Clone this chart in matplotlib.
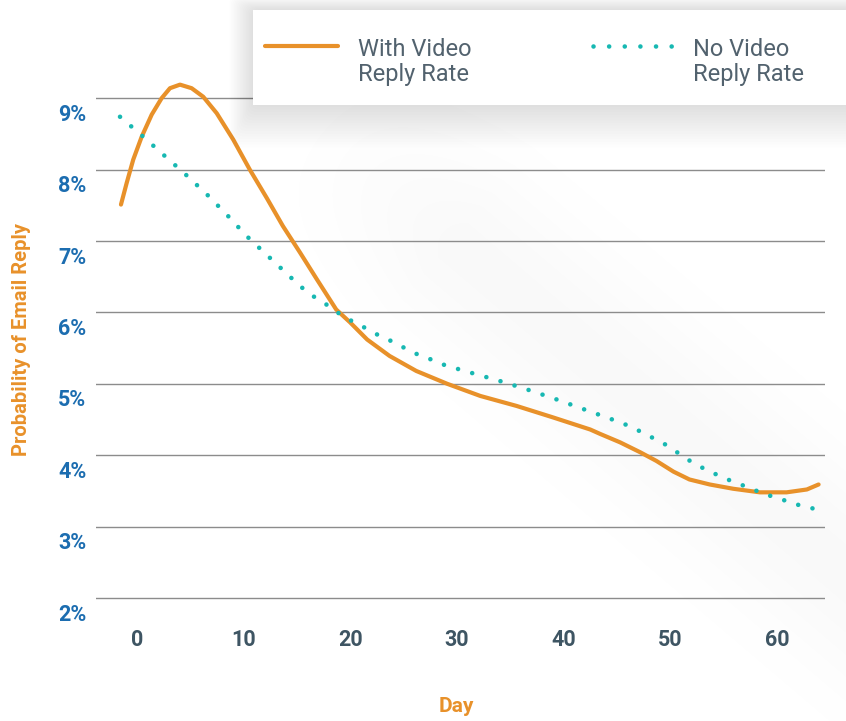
import numpy as np
import matplotlib
matplotlib.use("Agg")
import matplotlib.pyplot as plt
import matplotlib.transforms as mtransforms
from matplotlib.patches import FancyBboxPatch

# data
video_days = [-1.47, -0.94, -0.32, 0.47, 1.41, 2.34, 3.12, 4.06, 5.15, 6.24, 7.5, 9.05,
              10.6, 12.2, 13.7, 15.3, 16.9, 18.7, 20.0, 21.6, 23.7, 26.2, 29.1, 32.2,
              35.6, 39.0, 42.5, 43.4, 45.3, 47.2, 48.7, 50.3, 51.8, 53.7, 55.9, 58.4,
              60.9, 62.8, 63.9]
video_rate = [7.51, 7.81, 8.14, 8.46, 8.77, 9.00, 9.14, 9.19, 9.14, 9.02, 8.79, 8.42,
              8.00, 7.60, 7.21, 6.84, 6.46, 6.04, 5.86, 5.62, 5.39, 5.18, 5.00, 4.83,
              4.69, 4.53, 4.36, 4.30, 4.18, 4.04, 3.92, 3.77, 3.66, 3.59, 3.53, 3.48,
              3.48, 3.52, 3.59]

novideo_days = [-1.56, 0.47, 2.49, 4.6, 6.6, 8.5, 10.3, 15.3, 16.4, 17.6, 18.7, 19.9,
                21.2, 22.4, 23.7, 25.0, 26.2, 27.6, 28.9, 31.2, 33.8, 36.4, 39.0, 41.6,
                42.9, 45.5, 46.7, 48.0, 49.2, 50.1, 51.2, 52.4, 53.6, 54.9, 56.2, 57.5,
                58.7, 60.1, 61.4, 62.8, 63.9]
novideo_rate = [8.74, 8.48, 8.21, 7.93, 7.65, 7.36, 7.07, 6.37, 6.24, 6.13, 6.01, 5.90,
                5.80, 5.70, 5.61, 5.51, 5.42, 5.34, 5.26, 5.16, 5.05, 4.93, 4.80, 4.66,
                4.59, 4.45, 4.37, 4.27, 4.18, 4.10, 3.98, 3.87, 3.78, 3.69, 3.61, 3.54,
                3.46, 3.40, 3.33, 3.27, 3.24]

y_ticks = [2, 3, 4, 5, 6, 7, 8, 9]
x_ticks = [0, 10, 20, 30, 40, 50, 60]

ORANGE = '#E8912A'
TEAL = '#17B8B2'
BLUE = '#1C6DB0'
SLATE = '#3E5563'
LEGEND_TXT = '#52626E'

W, H = 846, 721
fig = plt.figure(figsize=(W / 100, H / 100), dpi=100)

# faint diagonal shadow behind the plot
yy, xx = np.mgrid[0:H, 0:W]
p0 = np.array([300.0, 110.0])
p1 = np.array([900.0, 620.0])
d = (p1 - p0) / np.linalg.norm(p1 - p0)
n = np.array([-d[1], d[0]])
dist = (xx - p0[0]) * n[0] + (yy - p0[1]) * n[1]
along = (xx - p0[0]) * d[0] + (yy - p0[1]) * d[1]
shade = np.exp(-(dist / 90.0) ** 2) * np.clip(along / 200.0, 0, 1)
bg = fig.add_axes([0, 0, 1, 1], zorder=-5)
bg.imshow(1 - 0.025 * shade, cmap='gray', vmin=0, vmax=1, aspect='auto',
          extent=[0, W, H, 0])
bg.set_axis_off()

ax = fig.add_axes([96 / W, 1 - 600 / H, (825 - 96) / W, (600 - 70) / H])
ax.patch.set_alpha(0)

ax.plot(video_days, video_rate, color=ORANGE, lw=3.0, solid_capstyle='round',
        solid_joinstyle='round', zorder=3)
ax.plot(novideo_days, novideo_rate, color=TEAL, lw=3.3, linestyle=(0, (0.01, 3.2)),
        dash_capstyle='round', zorder=4)

ax.set_xlim(-3.81, 64.5)
ax.set_ylim(2 - 2 / 71.6, 9.395)
ax.set_yticks(y_ticks)
ax.set_yticklabels([f'{v}%' for v in y_ticks])
ax.set_xticks(x_ticks)
ax.set_xticklabels([str(v) for v in x_ticks])
ax.grid(axis='y', color='#8C8C8C', lw=1.0)
ax.set_axisbelow(True)
for s in ax.spines.values():
    s.set_visible(False)

ax.tick_params(axis='y', length=0, pad=7, labelsize=15.5, labelcolor=BLUE)
ax.tick_params(axis='x', length=0, pad=21, labelsize=15.5, labelcolor=SLATE)
offset = mtransforms.ScaledTranslation(0, -0.14, fig.dpi_scale_trans)
for lab in ax.get_yticklabels():
    lab.set_fontweight('bold')
    lab.set_family('Roboto')
    lab.set_transform(lab.get_transform() + offset)
for lab in ax.get_xticklabels():
    lab.set_fontweight('bold')
    lab.set_family('Roboto')

fig.text(22 / W, 1 - 340 / H, 'Probability of Email Reply', rotation=90,
         ha='center', va='center', color=ORANGE, fontsize=14.5, fontweight='bold',
         family='Roboto')
fig.text(456 / W, 1 - 707 / H, 'Day', ha='center', va='center', color=ORANGE,
         fontsize=15, fontweight='bold', family='Roboto')

# legend card with soft shadow
lx0, ly0, lx1, ly1 = 253, 10, 850, 105
for i in range(16):
    g = 2 + i * 3
    sh = FancyBboxPatch(((lx0 - g * 0.5) / W, 1 - (ly1 + g * 0.9) / H),
                        (lx1 - lx0 + g) / W, (ly1 - ly0 + g * 1.2) / H,
                        boxstyle='round,pad=0,rounding_size=0.01',
                        transform=fig.transFigure, facecolor='black',
                        edgecolor='none', alpha=0.006, zorder=5)
    fig.add_artist(sh)
card = plt.Rectangle((lx0 / W, 1 - ly1 / H), (lx1 - lx0) / W, (ly1 - ly0) / H,
                     transform=fig.transFigure, facecolor='white',
                     edgecolor='none', zorder=6)
fig.add_artist(card)

lg = fig.add_axes([0, 0, 1, 1], zorder=7)
lg.set_xlim(0, W)
lg.set_ylim(H, 0)
lg.set_axis_off()
lg.patch.set_alpha(0)
lg.plot([265, 338], [46, 46], color=ORANGE, lw=3.0, solid_capstyle='round')
lg.plot([593, 675], [46, 46], color=TEAL, lw=3.3, linestyle=(0, (0.01, 3.4)),
        dash_capstyle='round')
lg.text(358, 62, 'With Video\nReply Rate', ha='left', va='center',
        color=LEGEND_TXT, fontsize=17, fontweight='normal', family='Roboto',
        linespacing=1.12)
lg.text(693, 62, 'No Video\nReply Rate', ha='left', va='center',
        color=LEGEND_TXT, fontsize=17, fontweight='normal', family='Roboto',
        linespacing=1.12)

fig.savefig('out.png', dpi=100)
